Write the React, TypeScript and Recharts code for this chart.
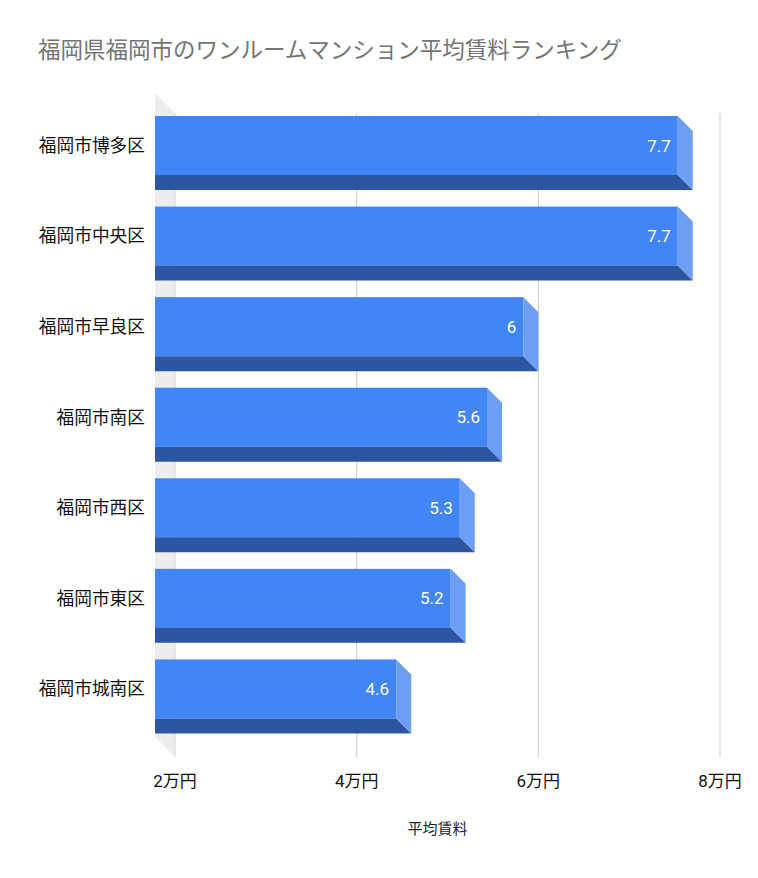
import React from 'react'
import { BarChart, Bar, XAxis, YAxis, CartesianGrid, LabelList } from 'recharts'

const KU = ['福岡市博多区', '福岡市中央区', '福岡市早良区', '福岡市南区', '福岡市西区', '福岡市東区', '福岡市城南区']
const CHINRYO = [7.7, 7.7, 6, 5.6, 5.3, 5.2, 4.6]
const X_TICKS = [2, 4, 6, 8]
const X_TICK_LABELS = ['2万円', '4万円', '6万円', '8万円']

const dados = KU.map((ku, i) => ({ ku, chinryo: CHINRYO[i] }))

const AZUL = '#4285f4'
const AZUL_ESCURO = '#2c56a2'
const AZUL_CLARO = '#6d9ef6'
const FONTE = "Roboto, 'Noto Sans CJK JP', sans-serif"

// profundidade do efeito 3D
const DEPTH = 15
const WALL = 20

const Bar3D = (props: any) => {
  const { x, y, width, height } = props
  const right = x + width
  const fh = height - DEPTH
  return (
    <g>
      <rect x={x - WALL} y={y} width={right - DEPTH - x + WALL} height={fh} fill={AZUL} />
      <polygon
        points={`${x - WALL},${y + fh} ${right - DEPTH},${y + fh} ${right},${y + height} ${x - WALL},${y + height}`}
        fill={AZUL_ESCURO}
      />
      <polygon
        points={`${right - DEPTH},${y} ${right},${y + DEPTH} ${right},${y + height} ${right - DEPTH},${y + fh}`}
        fill={AZUL_CLARO}
      />
    </g>
  )
}

const ValorLabel = (props: any) => {
  const { x, y, width, height, value } = props
  return (
    <text
      x={x + width - DEPTH - 7}
      y={y + (height - DEPTH) / 2}
      textAnchor="end"
      dominantBaseline="central"
      fill="#ffffff"
      fontSize={17}
      fontFamily={FONTE}
    >
      {value}
    </text>
  )
}

const GridLine = (props: any) => {
  const { x1, y1, y2, x, index } = props
  const isWall = x != null ? Math.abs(x1 - x) < 1 : index === 0
  if (isWall) {
    return (
      <g>
        <polygon
          points={`${x1 - WALL},${y1 - 15} ${x1},${y1 + 5} ${x1},${y2 + 15} ${x1 - WALL},${y2 - 5}`}
          fill="#ededed"
        />
        <line x1={x1} x2={x1} y1={y1 + 5} y2={y2 + 15} stroke="#d4d4d4" strokeWidth={1} />
      </g>
    )
  }
  return <line x1={x1} x2={x1} y1={y1 + 5} y2={y2 + 15} stroke="#cccccc" strokeWidth={1} />
}

const TickY = ({ x, y, payload }: any) => (
  <text x={x - 30} y={y - DEPTH / 2} textAnchor="end" dominantBaseline="central" fill="#111" fontSize={17.7} fontFamily={FONTE}>
    {payload.value}
  </text>
)

const TickX = ({ x, y, payload }: any) => {
  const i = X_TICKS.indexOf(payload.value)
  return (
    <text x={x} y={y + 39} textAnchor="middle" dominantBaseline="central" fill="#111" fontSize={17} fontFamily={FONTE}>
      {X_TICK_LABELS[i] ?? payload.value}
    </text>
  )
}

const TituloEixo = ({ viewBox }: any) => (
  <text
    x={viewBox.x + viewBox.width / 2 - 10}
    y={viewBox.y + 87}
    textAnchor="middle"
    dominantBaseline="central"
    fill="#222"
    fontSize={15}
    fontFamily={FONTE}
  >
    平均賃料
  </text>
)

export default function App() {
  return (
    <div style={{ position: 'absolute', left: 0, top: 0, width: 758, height: 878, background: '#fff' }}>
      <div
        style={{
          position: 'absolute', left: 38, top: 39, fontSize: 22.5, lineHeight: '22px',
          color: '#757575', fontFamily: FONTE, whiteSpace: 'nowrap',
        }}
      >
        福岡県福岡市のワンルームマンション平均賃料ランキング
      </div>
      <BarChart
        width={758}
        height={878}
        data={dados}
        layout="vertical"
        margin={{ top: 108, right: 38, left: 0, bottom: 76 }}
      >
        <CartesianGrid horizontal={false} vertical={GridLine} />
        <XAxis
          type="number"
          domain={[2, 8]}
          ticks={X_TICKS}
          axisLine={false}
          tickLine={false}
          tickSize={0}
          tickMargin={0}
          height={60}
          tick={<TickX />}
          label={<TituloEixo />}
        />
        <YAxis
          type="category"
          dataKey="ku"
          width={175}
          axisLine={false}
          tickLine={false}
          tickSize={0}
          tickMargin={0}
          tick={<TickY />}
        />
        <Bar dataKey="chinryo" barSize={74} shape={<Bar3D />} isAnimationActive={false}>
          <LabelList dataKey="chinryo" content={<ValorLabel />} />
        </Bar>
      </BarChart>
    </div>
  )
}
